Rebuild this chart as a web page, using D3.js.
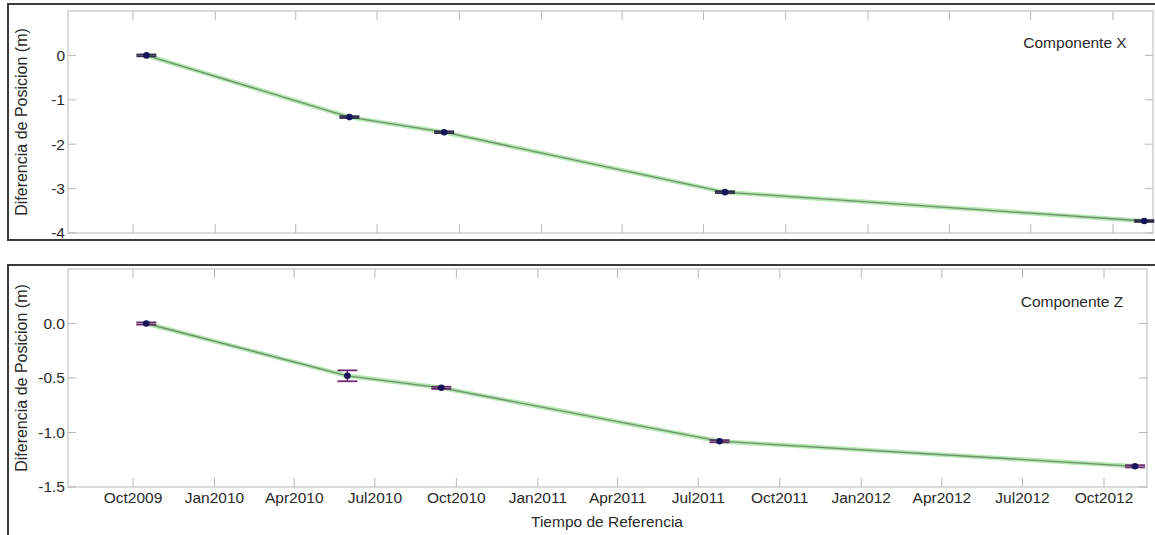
<!DOCTYPE html>
<html><head><meta charset="utf-8">
<script src="https://cdn.jsdelivr.net/npm/d3@7"></script>
<style>
html,body{margin:0;padding:0;background:#fff;}
svg{display:block;font-family:"Liberation Sans",Arial,sans-serif;}
</style></head>
<body><svg id="c" width="1155" height="535"></svg>
<script>
// ---- data ----
const epochs = ["2009-10-16","2010-05-31","2010-09-14","2011-07-25","2012-11-05"];
const compX = [0.0, -1.39, -1.73, -3.08, -3.73];
const compXErr = [0.02, 0.02, 0.02, 0.02, 0.02];
const compZ = [0.0, -0.48, -0.59, -1.08, -1.31];
const compZErr = [0.01, 0.05, 0.01, 0.01, 0.01];
const xTickDates = ["2009-10-01","2010-01-01","2010-04-01","2010-07-01","2010-10-01","2011-01-01","2011-04-01","2011-07-01","2011-10-01","2012-01-01","2012-04-01","2012-07-01","2012-10-01"];
const xTickLabels = ["Oct2009","Jan2010","Apr2010","Jul2010","Oct2010","Jan2011","Apr2011","Jul2011","Oct2011","Jan2012","Apr2012","Jul2012","Oct2012"];
const yTicksX = [0,-1,-2,-3,-4];
const yTickLabelsX = ["0","-1","-2","-3","-4"];
const yTicksZ = [0.0,-0.5,-1.0,-1.5];
const yTickLabelsZ = ["0.0","-0.5","-1.0","-1.5"];
const titles = ["Componente X","Componente Z"];
const yLabel = "Diferencia de Posicion (m)";
const xLabel = "Tiempo de Referencia";

const parse = d3.utcParse("%Y-%m-%d");
const svg = d3.select("#c");
const TXT = "#2a2a2a";

// outer frames
svg.append("rect").attr("x",8).attr("y",4).attr("width",1160).attr("height",236)
  .attr("fill","none").attr("stroke","#3a3a3a").attr("stroke-width",2);
svg.append("rect").attr("x",8).attr("y",265).attr("width",1160).attr("height",290)
  .attr("fill","none").attr("stroke","#3a3a3a").attr("stroke-width",2);

function panel(cfg){
  const g = svg.append("g");
  const x = d3.scaleUtc().domain([parse("2009-10-01"), parse("2012-10-01")]).range([133, cfg.xEnd]);
  const y = d3.scaleLinear().domain(cfg.yDomain).range([cfg.bottom, cfg.top]);
  const L = 68, R = cfg.right, T = cfg.top, B = cfg.bottom;
  g.append("rect").attr("x",L).attr("y",T).attr("width",R-L).attr("height",B-T)
    .attr("fill","none").attr("stroke","#c4c4c4").attr("stroke-width",1.2);
  const tickDates = xTickDates.map(parse);
  g.selectAll(".xtb").data(tickDates).join("line")
    .attr("x1",d=>x(d)).attr("x2",d=>x(d)).attr("y1",B).attr("y2",B-9)
    .attr("stroke","#b8b8b8").attr("stroke-width",1);
  g.selectAll(".xtt").data(tickDates).join("line")
    .attr("x1",d=>x(d)).attr("x2",d=>x(d)).attr("y1",T).attr("y2",T+9)
    .attr("stroke","#b8b8b8").attr("stroke-width",1);
  g.selectAll(".ytl").data(cfg.yTicks).join("line")
    .attr("x1",L).attr("x2",L+8).attr("y1",d=>y(d)).attr("y2",d=>y(d))
    .attr("stroke","#b8b8b8");
  g.selectAll(".ytr").data(cfg.yTicks).join("line")
    .attr("x1",R).attr("x2",R-8).attr("y1",d=>y(d)).attr("y2",d=>y(d))
    .attr("stroke","#b8b8b8");
  g.selectAll(".ylab").data(cfg.yTicks).join("text")
    .attr("x",65).attr("y",d=>y(d)).attr("dy","0.35em").attr("text-anchor","end")
    .attr("font-size",15.5).attr("fill",TXT).text((d,i)=>cfg.yLabels[i]);
  if(cfg.showX){
    g.selectAll(".xlab").data(tickDates).join("text")
      .attr("x",d=>x(d)).attr("y",B+16).attr("text-anchor","middle")
      .attr("font-size",15.5).attr("fill",TXT).text((d,i)=>xTickLabels[i]);
    g.append("text").attr("x",607).attr("y",B+40).attr("text-anchor","middle")
      .attr("font-size",15.5).attr("fill",TXT).text(xLabel);
  }
  g.append("text").attr("transform",`translate(27,${(T+B)/2}) rotate(-90)`)
    .attr("text-anchor","middle").attr("font-size",16).attr("fill",TXT).text(yLabel);
  g.append("text").attr("x",cfg.titleX).attr("y",cfg.titleY).attr("text-anchor","middle")
    .attr("font-size",15.5).attr("fill",TXT).text(cfg.title);
  const pts = epochs.map((d,i)=>({t:parse(d), v:cfg.vals[i], e:cfg.errs[i]}));
  const line = d3.line().x(d=>x(d.t)).y(d=>y(d.v)).curve(d3.curveLinear);
  g.append("path").attr("d",line(pts)).attr("fill","none").attr("stroke","#a6e4a2")
    .attr("stroke-width",4.5).attr("stroke-opacity",0.85).attr("stroke-linejoin","round");
  g.append("path").attr("d",line(pts)).attr("fill","none").attr("stroke","#6f8f6a")
    .attr("stroke-width",1.3).attr("stroke-linejoin","round");
  const eb = g.selectAll(".eb").data(pts).join("g");
  eb.append("line").attr("x1",d=>x(d.t)).attr("x2",d=>x(d.t))
    .attr("y1",d=>y(d.v-d.e)).attr("y2",d=>y(d.v+d.e)).attr("stroke",cfg.ebColor).attr("stroke-width",1.5);
  eb.append("line").attr("x1",d=>x(d.t)-10).attr("x2",d=>x(d.t)+10)
    .attr("y1",d=>y(d.v-d.e)).attr("y2",d=>y(d.v-d.e)).attr("stroke",cfg.ebColor).attr("stroke-width",1.8);
  eb.append("line").attr("x1",d=>x(d.t)-10).attr("x2",d=>x(d.t)+10)
    .attr("y1",d=>y(d.v+d.e)).attr("y2",d=>y(d.v+d.e)).attr("stroke",cfg.ebColor).attr("stroke-width",1.8);
  g.selectAll(".pt").data(pts).join("circle")
    .attr("cx",d=>x(d.t)).attr("cy",d=>y(d.v)).attr("r",3.3).attr("fill","#16145a");
}

panel({top:11,bottom:233,right:1153,xEnd:1113,yDomain:[-4,1],yTicks:yTicksX,yLabels:yTickLabelsX,
  showX:false,vals:compX,errs:compXErr,title:titles[0],titleX:1075,titleY:48,ebColor:"#2e2a4a"});
panel({top:269,bottom:487,right:1147,xEnd:1104,yDomain:[-1.5,0.5],yTicks:yTicksZ,yLabels:yTickLabelsZ,
  showX:true,vals:compZ,errs:compZErr,title:titles[1],titleX:1072,titleY:307,ebColor:"#6a2a6e"});
</script></body></html>
